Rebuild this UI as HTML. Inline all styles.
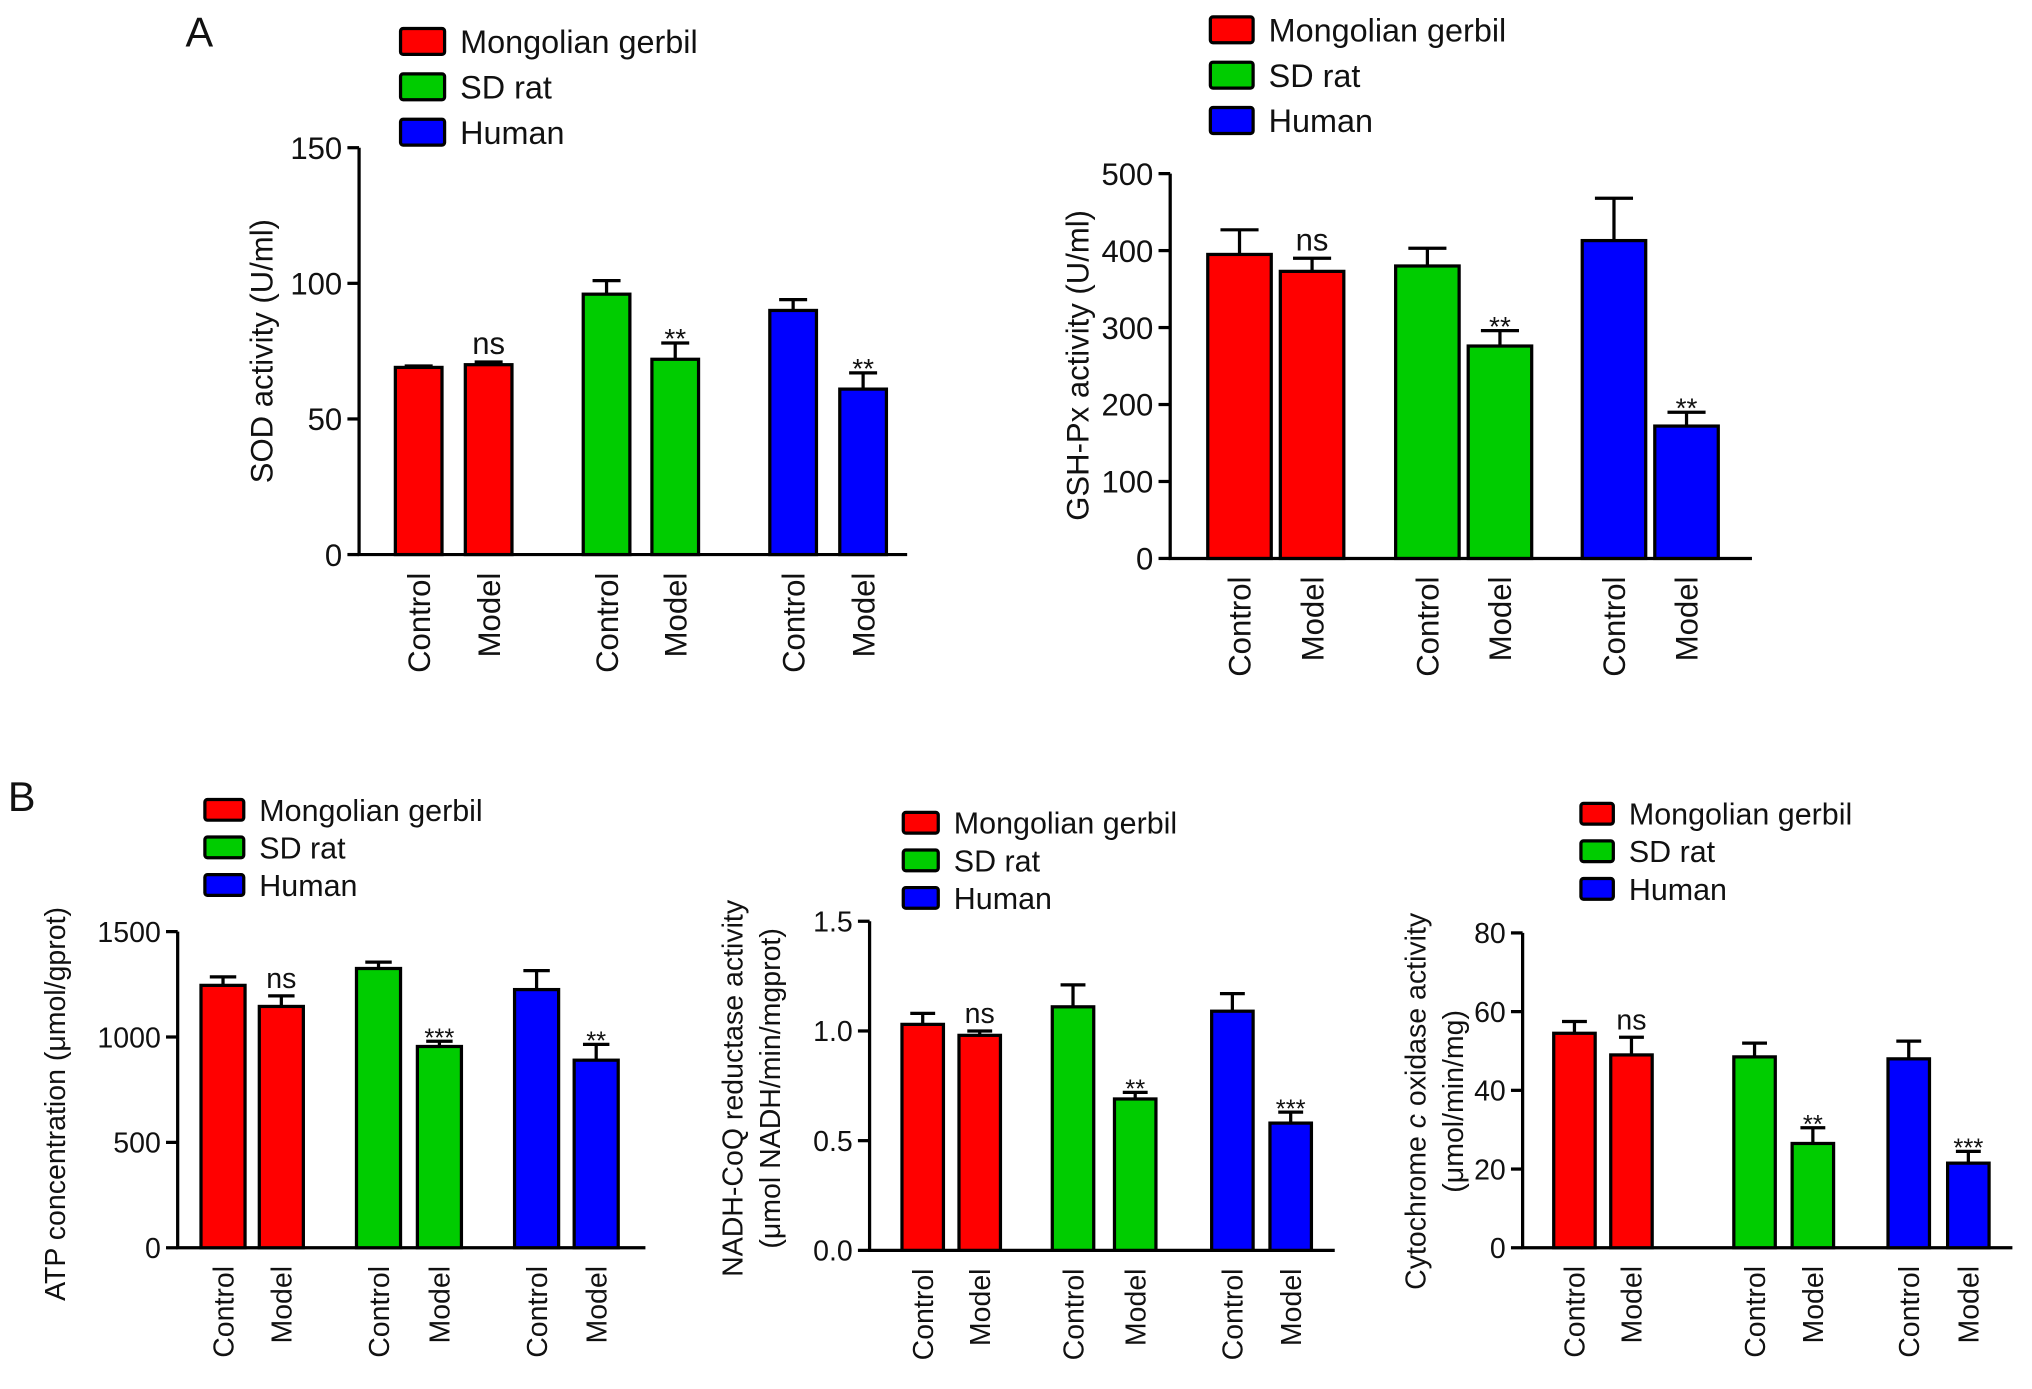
<!DOCTYPE html>
<html><head><meta charset="utf-8"><style>
html,body{margin:0;padding:0;background:#fff}
svg{display:block}
text{font-family:"Liberation Sans",Arial,sans-serif;fill:#111}
</style></head><body>
<svg id="fig" width="2032" height="1389" viewBox="0 0 1568 1072" xmlns="http://www.w3.org/2000/svg">
<text x="143" y="36" font-size="32">A</text>
<text x="6" y="626" font-size="32">B</text>
</svg>
<script>
const categories = ["Control","Model","Control","Model","Control","Model"];
const species = ["Mongolian gerbil","SD rat","Human"];
const sodValues = [69,70,96,72,90,61];
const sodErrors = [0.5,1,5,6,4,6];
const sodSig = ["","ns","","**","","**"];
const sodTicks = [0,50,100,150];
const gshValues = [395,373,380,276,413,172];
const gshErrors = [32,17,23,20,55,18];
const gshSig = ["","ns","","**","","**"];
const gshTicks = [0,100,200,300,400,500];
const atpValues = [1245,1145,1325,955,1225,890];
const atpErrors = [40,50,30,25,90,75];
const atpSig = ["","ns","","***","","**"];
const atpTicks = [0,500,1000,1500];
const nadhValues = [1.03,0.98,1.11,0.69,1.09,0.58];
const nadhErrors = [0.05,0.02,0.10,0.03,0.08,0.05];
const nadhSig = ["","ns","","**","","***"];
const nadhTicks = ["0.0","0.5","1.0","1.5"];
const coxValues = [54.5,49,48.5,26.5,48,21.5];
const coxErrors = [3,4.5,3.5,4,4.5,3];
const coxSig = ["","ns","","**","","***"];
const coxTicks = [0,20,40,60,80];
const colors = ["#ff0000","#00cc00","#0000ff"];

const NS="http://www.w3.org/2000/svg";
const svg=document.getElementById('fig');
function mk(tag,attrs,parent,txt){const e=document.createElementNS(NS,tag);for(const k in attrs)e.setAttribute(k,attrs[k]);if(txt!==undefined)e.textContent=txt;(parent||svg).appendChild(e);return e;}

function chart(c){
  const g=mk('g',{});
  
  
  const tickNums=c.ticks.map(Number);
  const vmax=Math.max(...tickNums);
  const y=v=>c.y0-(v/vmax)*(c.y0-c.y1);
  species.forEach((s,i)=>{
    const r=mk('rect',{x:c.lx,y:c.ly+i*c.lgap,width:c.lw,height:c.lh,fill:colors[i],stroke:'#000','stroke-width':2.5,rx:2},g);
    
    
    const t=mk('text',{x:c.lx+c.lw+12,y:c.ly+i*c.lgap+c.lh/2+c.lfs*0.36,'font-size':c.lfs},g,s);
    
    
  });
  const ax=mk('path',{d:`M${c.ax},${c.y1}V${c.y0}H${c.xend}`,stroke:'#000','stroke-width':2.5,fill:'none'},g);
  
  
  c.ticks.forEach(t=>{
    const yy=y(Number(t));
    mk('line',{x1:c.ax-9,x2:c.ax,y1:yy,y2:yy,stroke:'#000','stroke-width':2.5},g);
    const tl=mk('text',{x:c.ax-13,y:yy+c.tfs*0.36,'font-size':c.tfs,'text-anchor':'end'},g,String(t));
    
    
  });
  c.values.forEach((v,i)=>{
    const x=c.bx[i], top=y(v), e=y(v+c.errors[i]);
    const cx=x+c.bw/2;
    mk('line',{x1:cx,x2:cx,y1:top,y2:e,stroke:'#000','stroke-width':2.5},g);
    mk('line',{x1:cx-c.bw*0.3,x2:cx+c.bw*0.3,y1:e,y2:e,stroke:'#000','stroke-width':2.5},g);
    const b=mk('rect',{x:x,y:top,width:c.bw,height:c.y0-top,fill:colors[Math.floor(i/2)],stroke:'#000','stroke-width':2.5},g);
    
    
    if(c.sig[i]){
      const st=mk('text',{x:cx,y:e-(c.sig[i]==='ns'?6:-4),'font-size':c.sig[i]==='ns'?c.tfs:c.tfs*0.9,'text-anchor':'middle'},g,c.sig[i]);
      
      
    }
    const xl=mk('text',{x:0,y:0,'font-size':c.tfs,'text-anchor':'end',transform:`translate(${cx+c.tfs*0.36},${c.y0+14}) rotate(-90)`},g,categories[i]);
    
    
  });
  c.title.forEach((line,k)=>{
    const t=mk('text',{x:0,y:0,'font-size':c.tfs,'text-anchor':'middle',transform:`translate(${c.tx+k*29},${c.ty}) rotate(-90)`},g);
    t.innerHTML=line;
    
    
  });
}

chart({name:'sod-chart',values:sodValues,errors:sodErrors,sig:sodSig,ticks:sodTicks,y0:428,y1:114,ax:277,xend:700,
  bx:[305,359,450,503,594,648],bw:36,lx:309,ly:22,lw:34,lh:20,lgap:35,lfs:25,tfs:24,title:['SOD activity (U/ml)'],tx:210,ty:271});
chart({name:'gsh-chart',values:gshValues,errors:gshErrors,sig:gshSig,ticks:gshTicks,y0:431,y1:134,ax:903,xend:1352,
  bx:[932,988,1077,1133,1221,1277],bw:49,lx:934,ly:13,lw:33,lh:20,lgap:35,lfs:25,tfs:24,title:['GSH-Px activity (U/ml)'],tx:840,ty:282});
chart({name:'atp-chart',values:atpValues,errors:atpErrors,sig:atpSig,ticks:atpTicks,y0:963,y1:719,ax:137,xend:498,
  bx:[155,200,275,322,397,443],bw:34,lx:158,ly:617,lw:30,lh:16,lgap:29,lfs:23.5,tfs:22,title:['ATP concentration (μmol/gprot)'],tx:50,ty:852});
chart({name:'nadh-chart',values:nadhValues,errors:nadhErrors,sig:nadhSig,ticks:nadhTicks,y0:965,y1:711,ax:671,xend:1030,
  bx:[696,740,812,860,935,980],bw:32,lx:697,ly:627,lw:27,lh:16,lgap:29,lfs:23.5,tfs:22,title:['NADH-CoQ reductase activity','(μmol NADH/min/mgprot)'],tx:573,ty:840});
chart({name:'cox-chart',values:coxValues,errors:coxErrors,sig:coxSig,ticks:coxTicks,y0:963,y1:720,ax:1175,xend:1553,
  bx:[1199,1243,1338,1383,1457,1503],bw:32,lx:1220,ly:620,lw:25,lh:16,lgap:29,lfs:23.5,tfs:22,title:['Cytochrome <tspan font-style="italic">c</tspan> oxidase activity','(μmol/min/mg)'],tx:1100,ty:850});
</script>
</body></html>
